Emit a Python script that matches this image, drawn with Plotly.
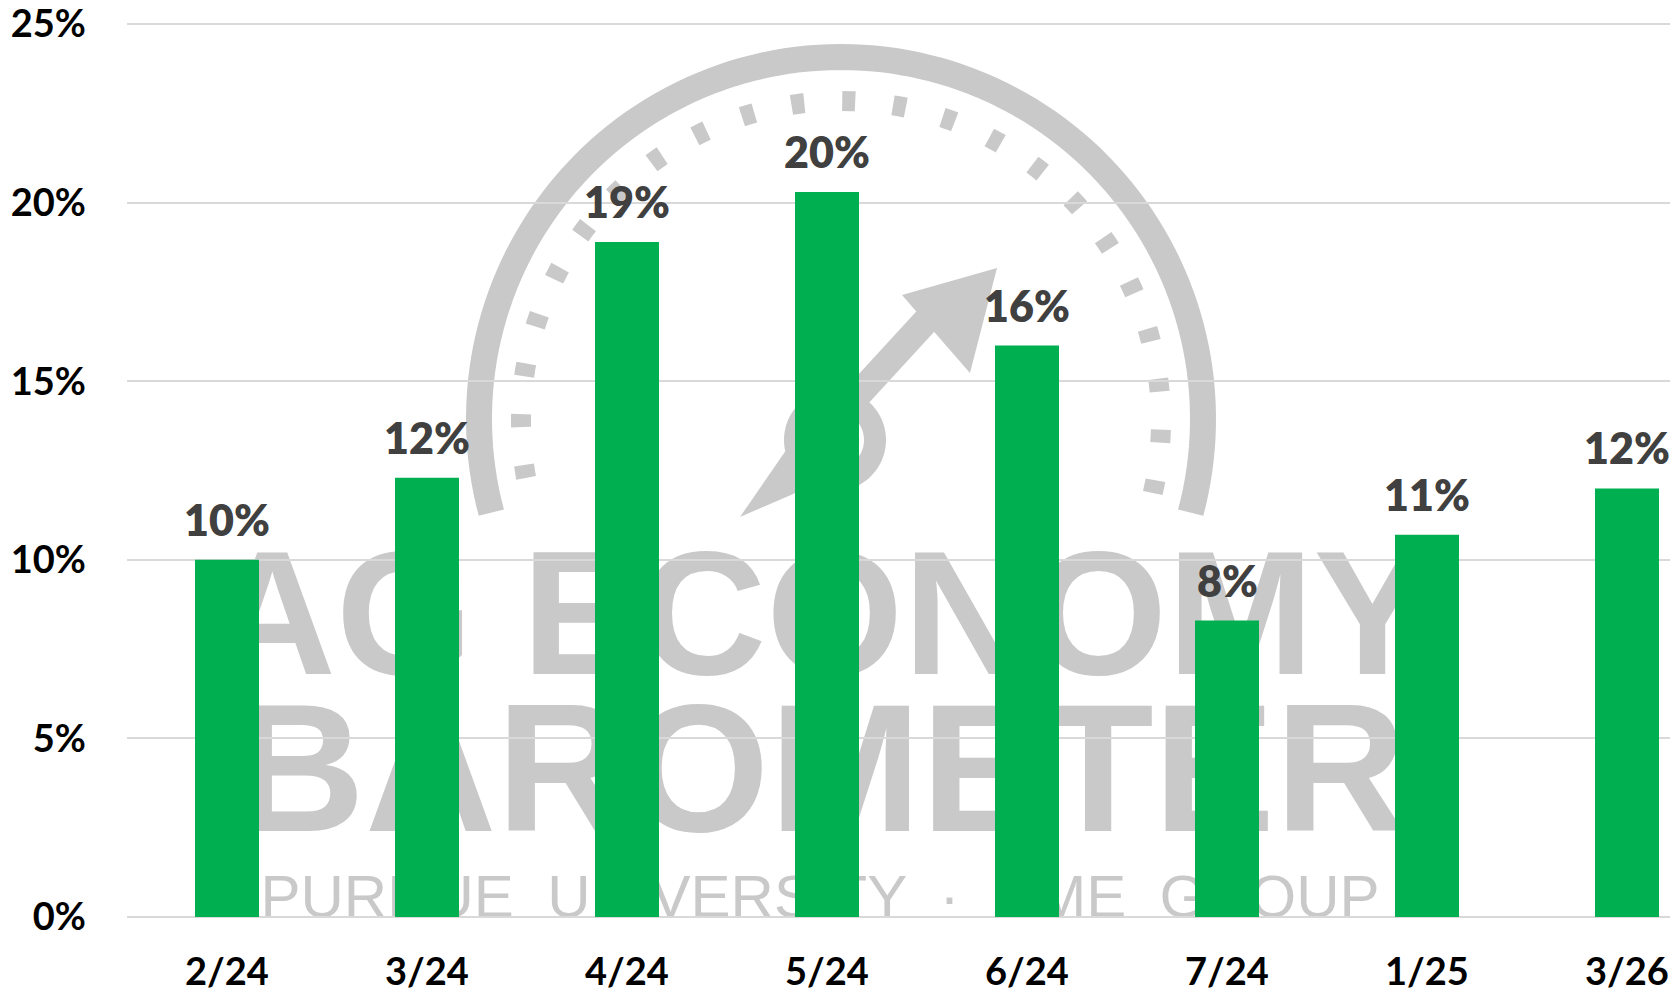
import math
import plotly.graph_objects as go

# ---------------- data ----------------
categories = ["2/24", "3/24", "4/24", "5/24", "6/24", "7/24", "1/25", "3/26"]
values = [10.0, 12.3, 18.9, 20.3, 16.0, 8.3, 10.7, 12.0]
y_tick_values = [0, 5, 10, 15, 20, 25]
y_tick_labels = ["0%", "5%", "10%", "15%", "20%", "25%"]

# ---------------- layout geometry ----------------
W, H = 1670, 994
L, R, T, B = 127, 0, 22, 77
PW, PH = W - L - R, H - T - B
Y_MAX = 25.06

BAR_GREEN = "#00B050"
LABEL_GREY = "#404040"
GRID = "#d9d9d9"
WM = "#c9c9c9"  # watermark grey
FONT = "Lato"


def px(x):
    return (x - L) / PW


def py(y):
    return (H - B - y) / PH


def arc_path(cx, cy, r, a0, a1, n=120, close=False):
    pts = []
    for i in range(n + 1):
        a = math.radians(a0 + (a1 - a0) * i / n)
        pts.append((px(cx + r * math.cos(a)), py(cy - r * math.sin(a))))
    p = "M " + " L ".join(f"{x:.5f},{y:.5f}" for x, y in pts)
    return p + (" Z" if close else "")


def poly_path(points):
    return "M " + " L ".join(f"{px(x):.5f},{py(y):.5f}" for x, y in points) + " Z"


fig = go.Figure()

fig.add_trace(
    go.Bar(
        x=categories,
        y=values,
        width=0.32,
        marker=dict(color=BAR_GREEN, line=dict(width=0)),
        hoverinfo="x+y",
    )
)

# data labels
annotations = []
for c, v in zip(categories, values):
    annotations.append(
        dict(
            x=c,
            y=v,
            xref="x",
            yref="y",
            text=f"{round(v)}%",
            showarrow=False,
            yanchor="bottom",
            yshift=13,
            font=dict(family=FONT, size=43, color=LABEL_GREY, weight=800),
        )
    )

# ---------------- watermark (decorative logo) ----------------
shapes = []
shapes.append(dict(type="path", xref="paper", yref="paper", layer="below",
                   path=arc_path(841, 419, 362, -15, 195),
                   line=dict(color=WM, width=26)))
shapes.append(dict(type="path", xref="paper", yref="paper", layer="below",
                   path=arc_path(841, 421, 320, -13, 193),
                   line=dict(color=WM, width=20, dash="13px,38px")))
shapes.append(dict(type="path", xref="paper", yref="paper", layer="below",
                   path=arc_path(835, 440, 40, 0, 360, close=True),
                   line=dict(color=WM, width=22)))
shapes.append(dict(type="path", xref="paper", yref="paper", layer="below",
                   path=poly_path([(855, 418), (945, 320), (925, 302), (835, 400)]),
                   fillcolor=WM, line=dict(width=0)))
shapes.append(dict(type="path", xref="paper", yref="paper", layer="below",
                   path=poly_path([(997, 268), (902, 295), (970, 373)]),
                   fillcolor=WM, line=dict(width=0)))
shapes.append(dict(type="path", xref="paper", yref="paper", layer="below",
                   path=poly_path([(740, 517), (800, 430), (830, 478)]),
                   fillcolor=WM, line=dict(width=0)))

wm_texts = [
    ("AG ECONOMY", 596, 176, "bold"),
    ("BAROMETER", 751, 182, "bold"),
    ("PURDUE  UNIVERSITY  ·  CME  GROUP", 890, 60, "normal"),
]
for txt, cy, size, weight in wm_texts:
    shapes.append(dict(
        type="rect", xref="paper", yref="paper", layer="below",
        x0=px(240), x1=px(1400), y0=py(cy + 90), y1=py(cy - 90),
        line=dict(width=0), fillcolor="rgba(0,0,0,0)",
        label=dict(text=txt, textposition="middle center",
                   font=dict(family="Liberation Sans", size=size, color=WM, weight=weight)),
    ))

fig.update_layout(
    width=W,
    height=H,
    margin=dict(l=L, r=R, t=T, b=B, pad=0, autoexpand=False),
    paper_bgcolor="white",
    plot_bgcolor="rgba(0,0,0,0)",
    showlegend=False,
    shapes=shapes,
    annotations=annotations,
    xaxis=dict(
        type="category",
        range=[-0.5, 7.215],
        automargin=False,
        showgrid=False,
        showline=False,
        zeroline=False,
        ticks="",
        ticklabelstandoff=29,
        ticklabeloverflow="allow",
        tickfont=dict(family=FONT, size=38, color="#000000", weight="bold"),
    ),
    yaxis=dict(
        range=[0, Y_MAX],
        automargin=False,
        tickmode="array",
        tickvals=y_tick_values,
        ticktext=y_tick_labels,
        showgrid=True,
        gridcolor=GRID,
        gridwidth=1.5,
        zeroline=True,
        zerolinecolor=GRID,
        zerolinewidth=1.5,
        showline=False,
        ticks="",
        ticklabelstandoff=40,
        ticklabeloverflow="allow",
        tickfont=dict(family=FONT, size=38, color="#000000", weight="bold"),
    ),
)

fig.write_html(
    "out.html",
    config={"displayModeBar": False},
    post_script="document.body.style.margin='0';document.body.style.padding='0';"
                "document.documentElement.style.overflow='hidden';",
)
